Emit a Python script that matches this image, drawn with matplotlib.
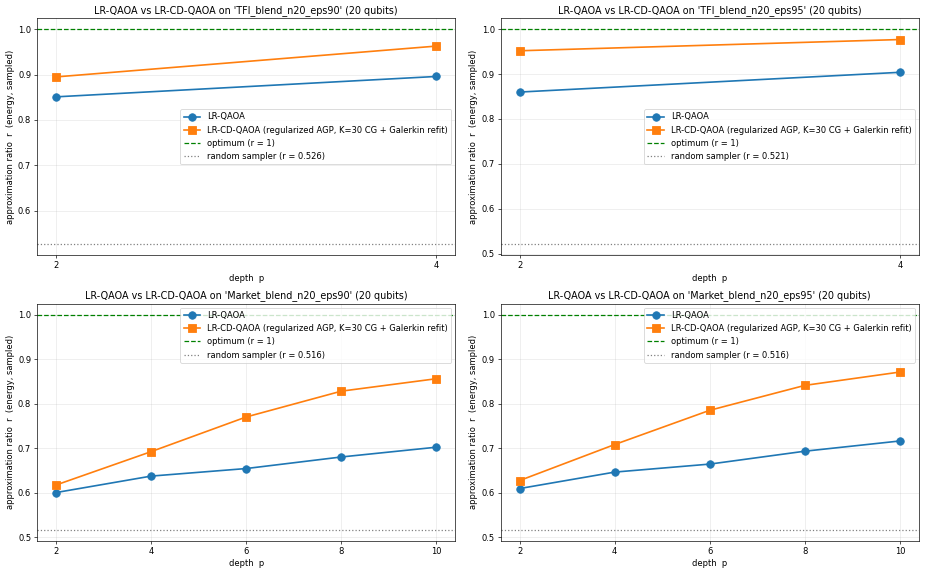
import matplotlib
matplotlib.use("Agg")
import matplotlib.pyplot as plt

# instances and sampled approximation ratios
instances = ["TFI_blend_n20_eps90", "TFI_blend_n20_eps95",
             "Market_blend_n20_eps90", "Market_blend_n20_eps95"]
depths = [[2, 4], [2, 4], [2, 4, 6, 8, 10], [2, 4, 6, 8, 10]]
lr_qaoa = [[0.851, 0.896],
           [0.860, 0.904],
           [0.600, 0.637, 0.654, 0.680, 0.702],
           [0.609, 0.646, 0.664, 0.693, 0.716]]
lr_cd_qaoa = [[0.895, 0.963],
              [0.952, 0.977],
              [0.617, 0.692, 0.770, 0.828, 0.856],
              [0.627, 0.708, 0.785, 0.841, 0.871]]
random_r = [0.526, 0.521, 0.516, 0.516]
legend_loc = ["center right", "center right", "upper right", "upper right"]

# drawn large, saved at low dpi -> 926x573
fig, axes = plt.subplots(2, 2, figsize=(926 / 60, 573 / 60), dpi=60)
for i, ax in enumerate(axes.flat):
    p = depths[i]
    ax.plot(p, lr_qaoa[i], "o-", color="tab:blue", ms=9, lw=2, label="LR-QAOA")
    ax.plot(p, lr_cd_qaoa[i], "s-", color="tab:orange", ms=9, lw=2,
            label="LR-CD-QAOA (regularized AGP, K=30 CG + Galerkin refit)")
    ax.axhline(1.0, color="green", ls="--", lw=1.5, label="optimum (r = 1)")
    ax.axhline(random_r[i], color="gray", ls=":", lw=1.5,
               label=f"random sampler (r = {random_r[i]:.3f})")
    ax.set_xticks(p)
    ax.set_ylim(random_r[i] - 0.025, 1.025)
    ax.set_xlabel("depth  p")
    ax.set_ylabel("approximation ratio  r  (energy, sampled)")
    ax.set_title(f"LR-QAOA vs LR-CD-QAOA on '{instances[i]}' (20 qubits)", fontsize=11.5)
    ax.grid(alpha=0.3)
    ax.legend(loc=legend_loc[i])

fig.subplots_adjust(left=0.04, right=0.9924, top=0.9686, bottom=0.0558, wspace=0.108, hspace=0.2025)
fig.savefig("out.png", dpi=60)
